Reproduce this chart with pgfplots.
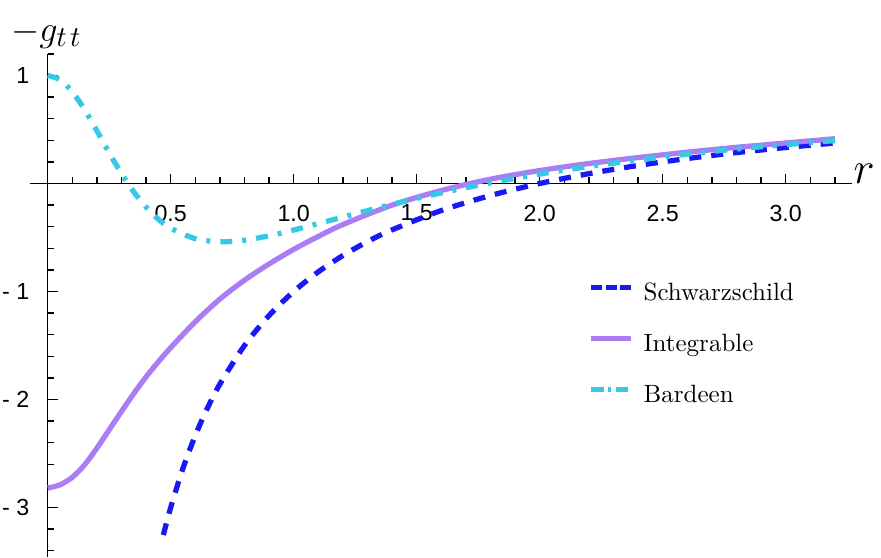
\RequirePackage{fix-cm}
\documentclass[border=0pt]{standalone}
\usepackage{pgfplots}
\pgfplotsset{compat=1.18}
\usepackage{fontspec}
\newfontfamily\tickfont{Liberation Sans}

\definecolor{schw}{RGB}{25,25,245}
\definecolor{integ}{RGB}{170,125,245}
\definecolor{bard}{RGB}{55,200,230}

\begin{document}
\begin{tikzpicture}
\begin{axis}[
    x=98.4pt, y=43.2pt,
    axis lines=middle,
    axis line style={-, line width=0.5pt},
    clip=false,
    xmin=-0.07, xmax=3.27,
    ymin=-3.458, ymax=1.2,
    xtick={0.5,1,1.5,2,2.5,3},
    xticklabels={0.5,1.0,1.5,2.0,2.5,3.0},
    minor xtick={0.1,0.2,0.3,0.4,0.6,0.7,0.8,0.9,1.1,1.2,1.3,1.4,1.6,1.7,1.8,1.9,2.1,2.2,2.3,2.4,2.6,2.7,2.8,2.9,3.1,3.2},
    ytick={-3,-2,-1,1},
    yticklabels={- 3,- 2,- 1,1},
    minor ytick={-3.4,-3.2,-2.8,-2.6,-2.4,-2.2,-1.8,-1.6,-1.4,-1.2,-0.8,-0.6,-0.4,-0.2,0.2,0.4,0.6,0.8,1.2},
    tick style={black, line width=0.5pt},
    tick align=center,
    major tick length=4pt,
    minor tick length=2.6pt,
    major x tick style={yshift=2pt},
    minor x tick style={yshift=1.3pt},
    major y tick style={xshift=2pt},
    minor y tick style={xshift=1.3pt},
    xticklabel style={font=\tickfont\fontsize{9.3}{10}\selectfont, yshift=-3pt},
    yticklabel style={font=\tickfont\fontsize{9.3}{10}\selectfont, xshift=-1.8pt},
    legend cell align=left,
    legend image code/.code={\draw[#1] (0pt,2.8pt) -- (16pt,2.8pt); \path (20pt,0pt);},
    legend style={at={(axis cs:2.196,-0.917)}, anchor=north west,
        draw=none, fill=none, inner sep=0pt, row sep=11.4pt,
        font=\fontsize{10}{12}\selectfont,
        nodes={inner sep=0pt, text height=7pt, text depth=2pt}},
]

% Schwarzschild
\addplot[schw, line width=2.1pt, dash pattern=on 4.8pt off 4pt, smooth,
    legend image post style={dash pattern=on 4.4pt off 1.4pt}] coordinates {
    (0.47,-3.255) (0.5,-3.0) (0.55,-2.636) (0.6,-2.333) (0.65,-2.077)
    (0.7,-1.857) (0.8,-1.5) (0.9,-1.222) (1.0,-1.0) (1.1,-0.818)
    (1.2,-0.667) (1.3,-0.538) (1.4,-0.429) (1.6,-0.25) (1.8,-0.111)
    (2.0,0.0) (2.2,0.091) (2.4,0.167) (2.6,0.231) (2.8,0.286)
    (3.0,0.333) (3.2,0.375)
};
\addlegendentry{Schwarzschild}

% Integrable
\addplot[integ, line width=2.1pt, smooth] coordinates {
    (0,-2.82) (0.05,-2.79) (0.1,-2.72) (0.15,-2.605) (0.2,-2.45)
    (0.25,-2.28) (0.3,-2.11) (0.35,-1.945) (0.4,-1.79) (0.45,-1.65)
    (0.5,-1.52) (0.6,-1.28) (0.7,-1.07) (0.8,-0.895) (0.9,-0.745)
    (1.0,-0.61) (1.1,-0.49) (1.2,-0.38) (1.4,-0.20) (1.6,-0.065)
    (1.8,0.04) (2.0,0.12) (2.2,0.185) (2.4,0.24) (2.6,0.29)
    (2.8,0.335) (3.0,0.375) (3.2,0.415)
};
\addlegendentry{Integrable}

% Bardeen
\addplot[bard, line width=2.1pt, dash pattern=on 4.8pt off 4pt on 1.6pt off 4pt, smooth,
    legend image post style={dash pattern=on 5pt off 1.8pt on 1.2pt off 1.8pt}] coordinates {
    (0,1.0) (0.05,0.961) (0.1,0.849) (0.15,0.684) (0.2,0.488)
    (0.25,0.284) (0.3,0.092) (0.35,-0.078) (0.4,-0.219) (0.45,-0.331)
    (0.5,-0.414) (0.6,-0.511) (0.7,-0.539) (0.8,-0.525) (0.9,-0.484)
    (1.0,-0.431) (1.2,-0.311) (1.4,-0.193) (1.6,-0.087) (1.8,0.006)
    (2.0,0.087) (2.2,0.157) (2.4,0.218) (2.6,0.272) (2.8,0.319)
    (3.0,0.360) (3.2,0.397)
};
\addlegendentry{Bardeen}

\node[anchor=base west, inner sep=0pt, font=\fontsize{14.5}{14.5}\selectfont] at (axis cs:-0.150,1.319)
    {$-g_{\mbox{\fontsize{11.5}{11.5}\selectfont$t\mkern2mu t$}}$};
\node[anchor=base west, inner sep=0pt, font=\fontsize{18}{18}\selectfont] at (axis cs:3.274,0) {$r$};

\coordinate (bl) at (axis cs:-0.1939,-3.4583);
\coordinate (tr) at (axis cs:3.3874,1.6991);
\end{axis}
\pgfresetboundingbox
\path (bl) rectangle (tr);
\end{tikzpicture}
\end{document}
